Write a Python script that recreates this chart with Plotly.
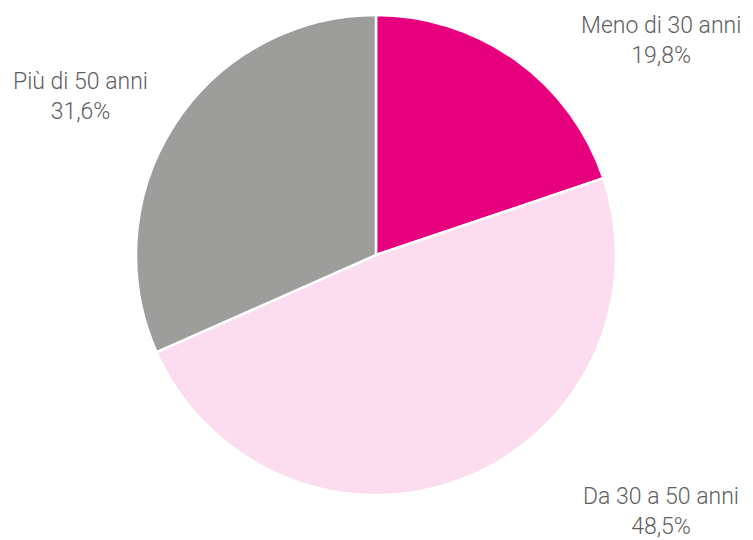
import plotly.graph_objects as go

labels = ["Meno di 30 anni", "Da 30 a 50 anni", "Più di 50 anni"]
values = [19.8, 48.5, 31.6]
value_labels = ["19,8%", "48,5%", "31,6%"]
colors = ["#E6007E", "#FCDDEF", "#9D9D9C"]

W, H = 753, 540
cx, cy, r = 376, 255, 240

fig = go.Figure(go.Pie(
    labels=labels, values=values, sort=False, direction="clockwise", rotation=0,
    marker=dict(colors=colors, line=dict(color="white", width=2.5)),
    textinfo="none", hoverinfo="label+percent", showlegend=False,
    domain=dict(x=[(cx - r) / W, (cx + r) / W], y=[1 - (cy + r) / H, 1 - (cy - r) / H]),
))

label_pos = [(661, 40), (661, 511), (80, 97)]
for lab, vl, (px, py) in zip(labels, value_labels, label_pos):
    fig.add_annotation(
        x=px / W, y=1 - py / H, xref="paper", yref="paper",
        text=f"{lab}<br>{vl}", showarrow=False, xanchor="center", yanchor="middle",
        font=dict(family="Roboto", size=23, color="#5e5e5e", weight=300),
    )

fig.update_layout(
    width=W, height=H, margin=dict(l=0, r=0, t=0, b=0),
    paper_bgcolor="white", plot_bgcolor="white",
)
fig.write_html("out.html", config={"displayModeBar": False},
               post_script="document.body.style.margin='0';document.body.style.overflow='hidden';")
